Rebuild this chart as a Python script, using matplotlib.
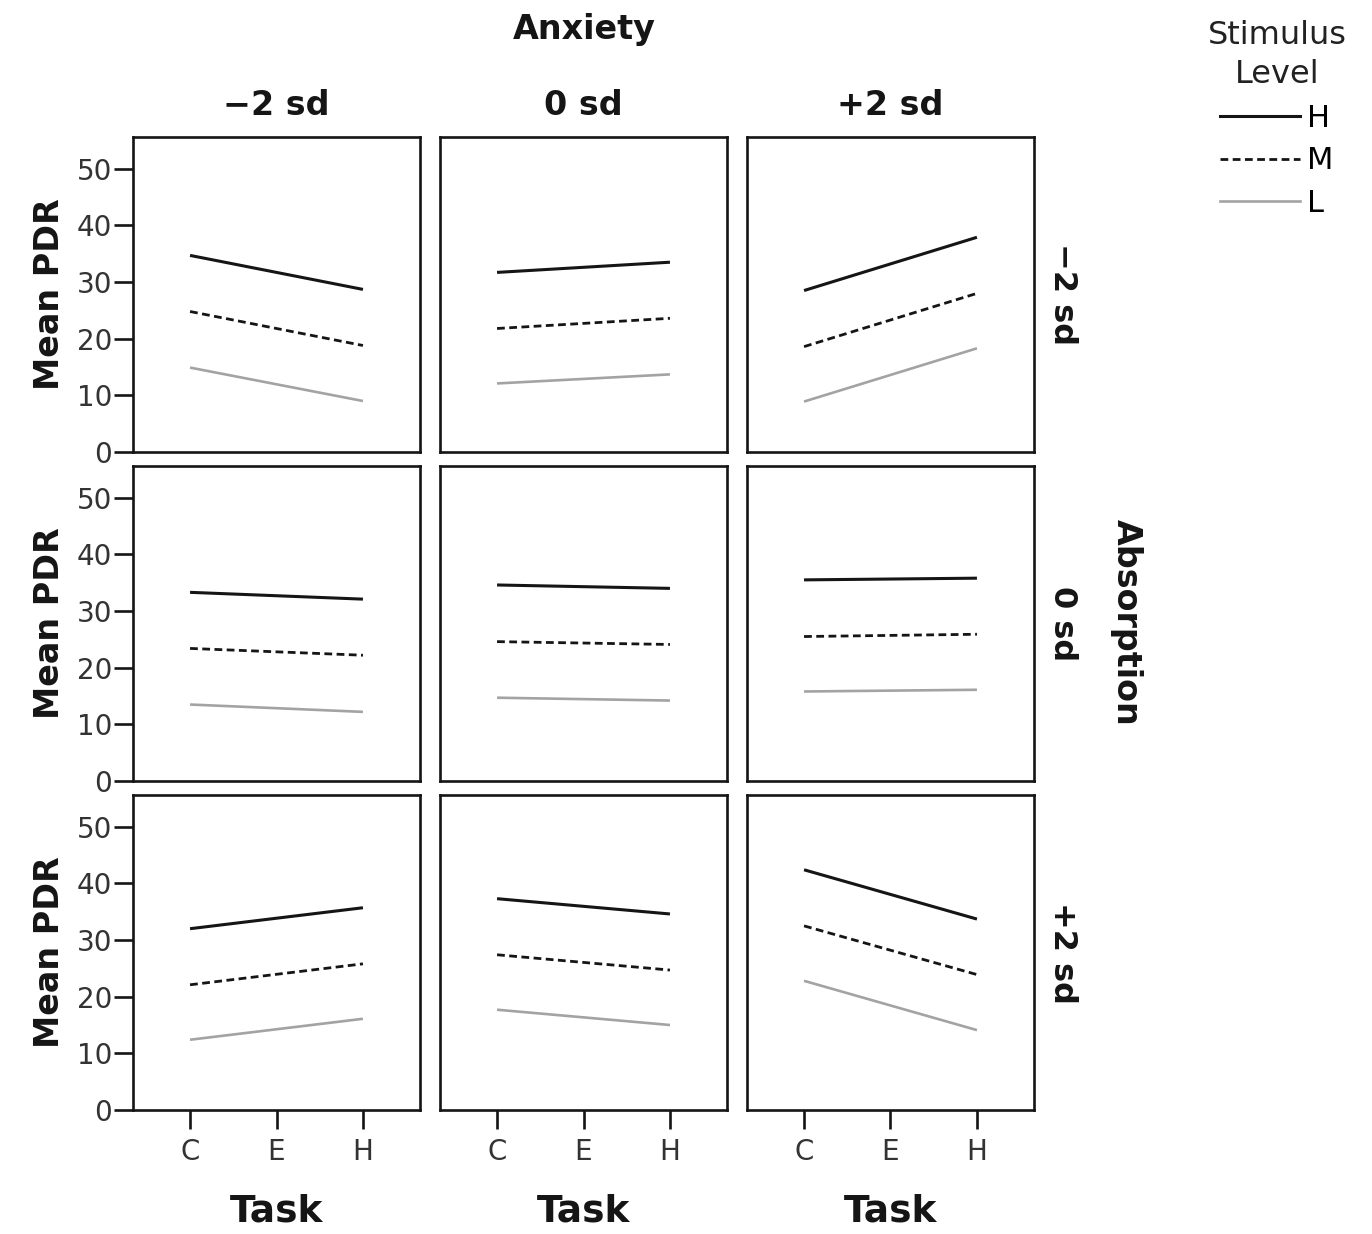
import numpy as np
import matplotlib.pyplot as plt
from matplotlib.lines import Line2D

plt.rcParams['font.family'] = ['DejaVu Sans']

tasks = ['C', 'E', 'H']
anxiety_labels = ['\u22122 sd', '0 sd', '+2 sd']
absorption_labels = ['\u22122 sd', '0 sd', '+2 sd']
levels = ['H', 'M', 'L']

# mean PDR at task C and task H, [absorption row][anxiety col]
pdr_H = [[(34.7, 28.7), (31.7, 33.5), (28.5, 37.9)],
         [(33.3, 32.1), (34.6, 34.0), (35.5, 35.8)],
         [(32.0, 35.7), (37.3, 34.6), (42.4, 33.7)]]
pdr_M = [[(24.8, 18.8), (21.8, 23.6), (18.6, 28.0)],
         [(23.4, 22.2), (24.6, 24.1), (25.5, 25.9)],
         [(22.1, 25.8), (27.4, 24.7), (32.5, 23.9)]]
pdr_L = [[(14.9, 9.0), (12.1, 13.7), (8.9, 18.3)],
         [(13.5, 12.2), (14.7, 14.2), (15.8, 16.1)],
         [(12.4, 16.1), (17.7, 15.0), (22.8, 14.1)]]

styles = {'H': dict(color='#151515', lw=2.2, ls='-'),
          'M': dict(color='#151515', lw=2.0, ls=(0, (2.8, 1.6))),
          'L': dict(color='#a3a3a3', lw=1.9, ls='-')}
series = {'H': pdr_H, 'M': pdr_M, 'L': pdr_L}

fig = plt.figure(figsize=(13.72, 12.34), dpi=100)

lefts = [133, 440, 747]
tops = [137, 466, 795]
w, h = 287, 315
W, Hf = 1372, 1234

for r in range(3):
  for c in range(3):
    ax = fig.add_axes([lefts[c] / W, 1 - (tops[r] + h) / Hf, w / W, h / Hf])
    xs = [0, 2]
    for lev in levels:
      ax.plot(xs, series[lev][r][c], **styles[lev], solid_capstyle='butt')
    ax.set_xlim(-0.66, 2.66)
    ax.set_ylim(0, 55.6)
    for s in ax.spines.values():
      s.set_linewidth(1.9)
      s.set_color('#151515')
    ax.tick_params(width=1.9, length=14, color='#151515', labelsize=20,
                   labelcolor='#333333', pad=1)
    ax.set_xticks([0, 1, 2])
    ax.set_yticks([0, 10, 20, 30, 40, 50])
    if r == 2:
      ax.set_xticklabels(tasks)
      ax.tick_params(axis='x', pad=6)
      ax.set_xlabel('Task', fontsize=27, fontweight='bold', labelpad=20,
                    color='#151515')
    else:
      ax.tick_params(axis='x', bottom=False, labelbottom=False)
    if c == 0:
      ax.set_ylabel('Mean PDR', fontsize=24, fontweight='bold', labelpad=8,
                    color='#151515')
    else:
      ax.tick_params(axis='y', left=False, labelleft=False)
    if r == 0:
      ax.set_title(anxiety_labels[c], fontsize=24, fontweight='bold', pad=16,
                   color='#151515')
    if c == 2:
      ax.text(1.1, 0.5, absorption_labels[r], transform=ax.transAxes,
              rotation=-90, ha='center', va='center', fontsize=23,
              fontweight='bold', color='#151515')

fig.text(584 / W, 1 - 30 / Hf, 'Anxiety', ha='center', va='center',
         fontsize=24, fontweight='bold', color='#151515')
fig.text(1126 / W, 1 - 622 / Hf, 'Absorption', ha='center', va='center',
         rotation=-90, fontsize=24, fontweight='bold', color='#151515')

handles = [Line2D([], [], **styles[lev]) for lev in levels]
leg = fig.legend(handles, levels, title='Stimulus\nLevel', loc='upper left',
                 bbox_to_anchor=(1180 / W, 1 + 8 / Hf), frameon=False,
                 fontsize=22, title_fontsize=23, handlelength=2.6,
                 handletextpad=0.25, labelspacing=0.45)
leg.get_title().set_multialignment('center')
leg.get_title().set_color('#222222')
leg.get_title().set_linespacing(1.35)

fig.savefig('out.png', dpi=100)
